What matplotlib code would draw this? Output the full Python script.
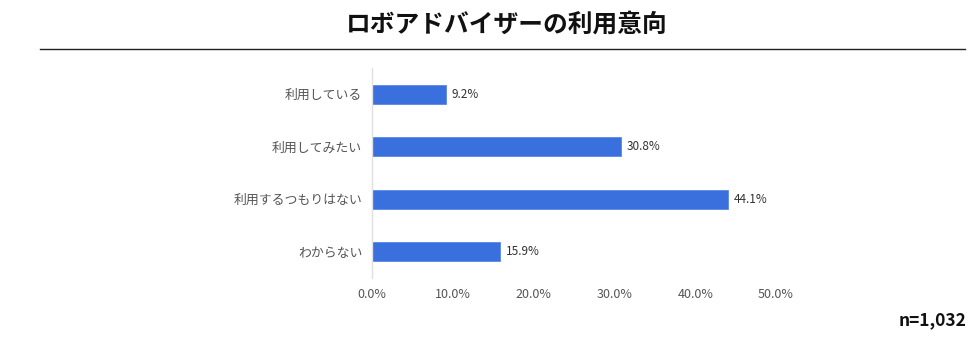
import matplotlib
matplotlib.use("Agg")
import matplotlib.pyplot as plt
from matplotlib.lines import Line2D

plt.rcParams["font.family"] = ["Noto Sans CJK JP", "DejaVu Sans"]

title = "ロボアドバイザーの利用意向"
categories = ["利用している", "利用してみたい", "利用するつもりはない", "わからない"]
values = [9.2, 30.8, 44.1, 15.9]
xticks = [0, 10, 20, 30, 40, 50]
n_label = "n=1,032"

bar_color = "#3a6fde"

fig = plt.figure(figsize=(9.8, 3.45), dpi=100)
ax = fig.add_axes([372 / 980, 1 - 278 / 345, (776 - 372) / 980, 210 / 345])

y = list(range(len(categories)))
ax.barh(y, values, height=0.37, color=bar_color, edgecolor="#5a88e8", linewidth=0.6)
for yi, v in zip(y, values):
    ax.text(v + 0.7, yi, f"{v:.1f}%", va="center", ha="left", fontsize=8.5, color="#333333")

ax.set_xlim(0, 50)
ax.set_ylim(len(categories) - 0.5, -0.5)
ax.set_yticks(y)
ax.set_yticklabels(categories, fontsize=9.3, color="#555555")
ax.set_xticks(xticks)
ax.set_xticklabels([f"{t:.1f}%" for t in xticks], fontsize=9, color="#555555")
ax.tick_params(axis="both", length=0)
ax.tick_params(axis="y", pad=7)
ax.tick_params(axis="x", pad=7)
for side in ["top", "right", "bottom"]:
    ax.spines[side].set_visible(False)
ax.spines["left"].set_color("#e0e0e0")
ax.spines["left"].set_linewidth(1)

fig.text(507 / 980, 1 - 25 / 345, title, ha="center", va="center", fontsize=17.8, fontweight="bold", color="#111111")
fig.add_artist(Line2D([40 / 980, 965 / 980], [1 - 49 / 345, 1 - 49 / 345], color="#222222", linewidth=1))
fig.text(966 / 980, 1 - 320 / 345, n_label, ha="right", va="center", fontsize=12.5, fontweight="bold", color="#111111")

fig.savefig("out.png", dpi=100)
